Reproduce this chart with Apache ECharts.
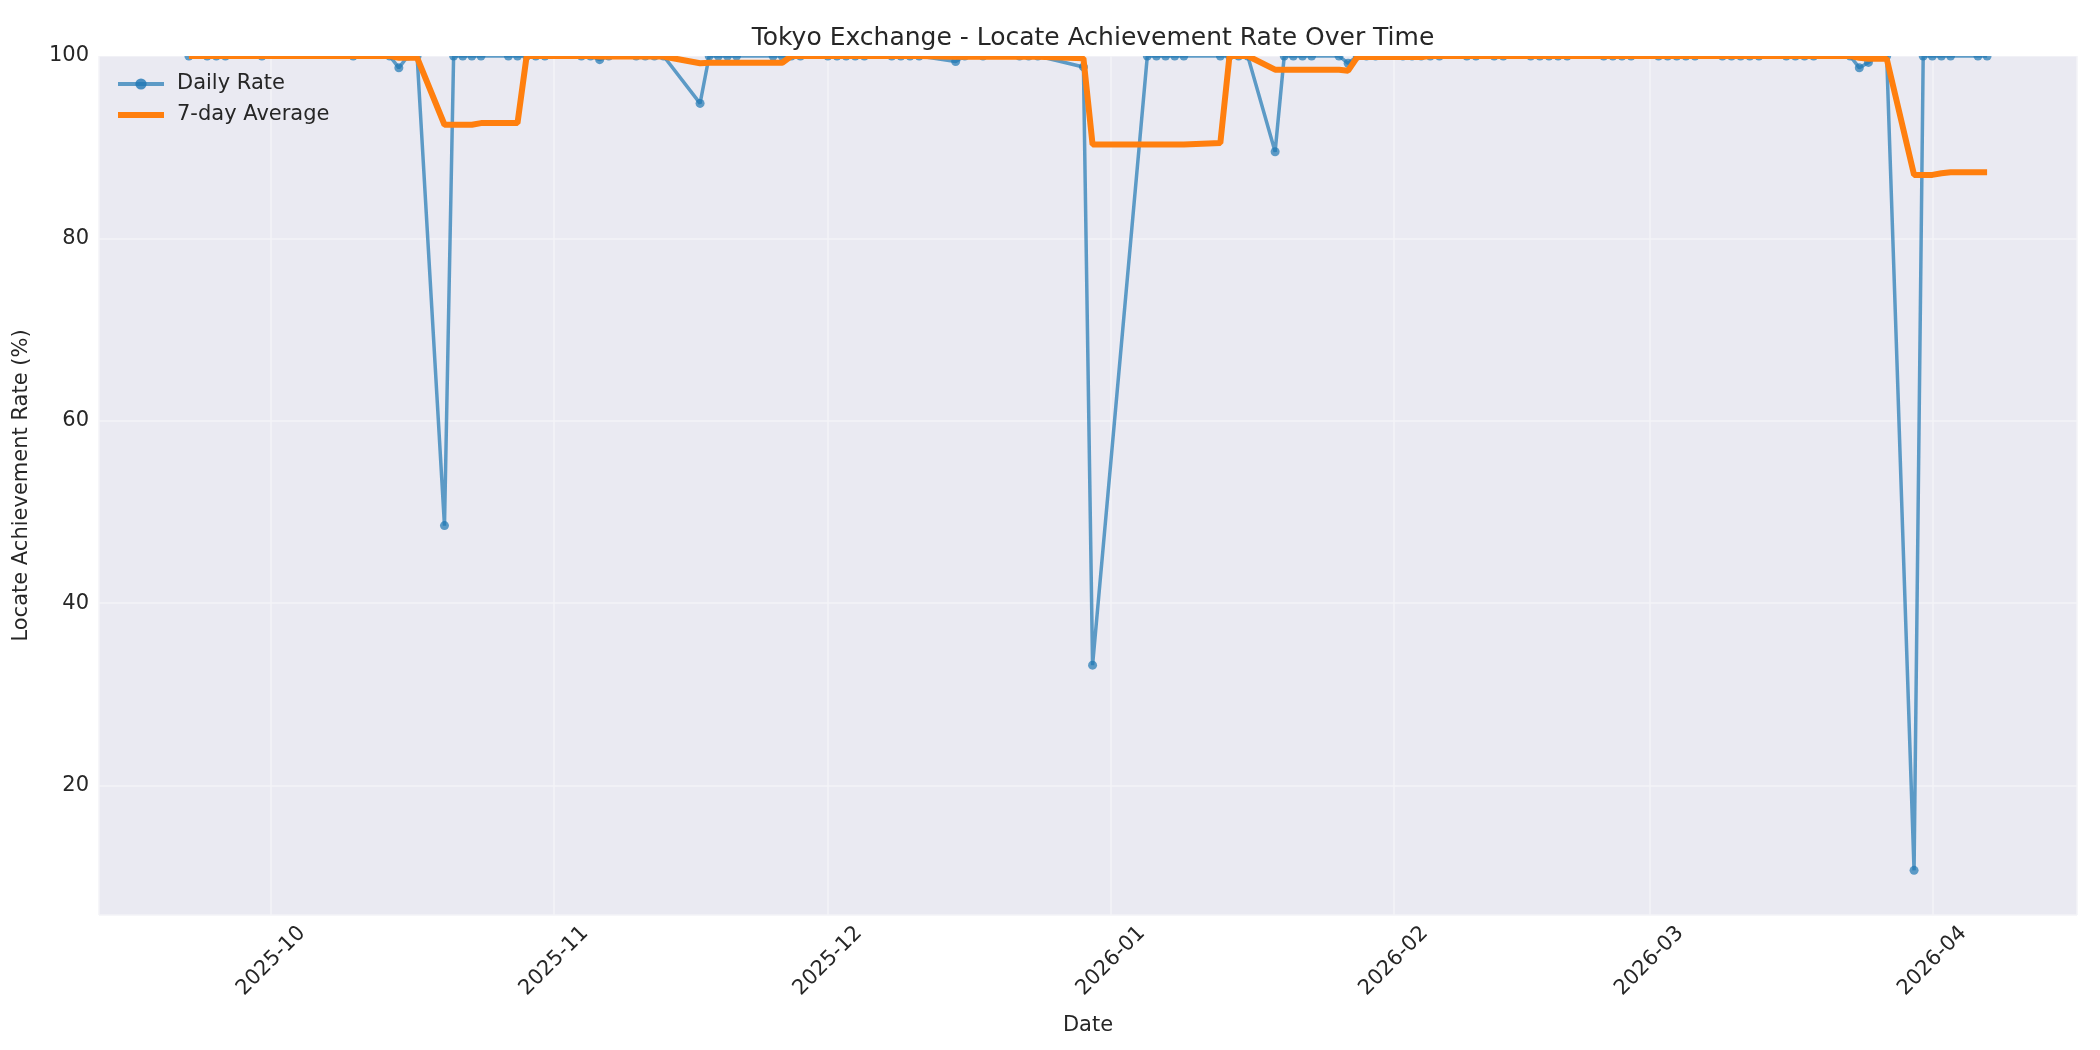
<!DOCTYPE html>
<html>
<head>
<meta charset="utf-8">
<script src="https://cdn.jsdelivr.net/npm/echarts@6/dist/echarts.min.js"></script>
<style>
  html, body { margin: 0; padding: 0; background: #ffffff; }
  #chart { width: 2100px; height: 1050px; }
</style>
</head>
<body>
<div id="chart"></div>
<script>
// ---- Data ----
const dates = [
  '2025-09-22','2025-09-24','2025-09-25','2025-09-26','2025-09-30',
  '2025-10-10','2025-10-14','2025-10-15','2025-10-16','2025-10-17',
  '2025-10-20','2025-10-21','2025-10-22','2025-10-23','2025-10-24',
  '2025-10-27','2025-10-28','2025-10-29','2025-10-30','2025-10-31',
  '2025-11-04','2025-11-05','2025-11-06','2025-11-07','2025-11-10',
  '2025-11-11','2025-11-12','2025-11-13','2025-11-17','2025-11-18',
  '2025-11-19','2025-11-20','2025-11-21','2025-11-25','2025-11-26',
  '2025-11-27','2025-11-28','2025-12-01','2025-12-02','2025-12-03',
  '2025-12-04','2025-12-05','2025-12-08','2025-12-09','2025-12-10',
  '2025-12-11','2025-12-15','2025-12-16','2025-12-18','2025-12-22',
  '2025-12-23','2025-12-24','2025-12-29','2025-12-30','2026-01-05',
  '2026-01-06','2026-01-07','2026-01-08','2026-01-09','2026-01-13',
  '2026-01-14','2026-01-15','2026-01-16','2026-01-19','2026-01-20',
  '2026-01-21','2026-01-22','2026-01-23','2026-01-26','2026-01-27',
  '2026-01-28','2026-01-29','2026-01-30','2026-02-02','2026-02-03',
  '2026-02-04','2026-02-05','2026-02-06','2026-02-09','2026-02-10',
  '2026-02-12','2026-02-13','2026-02-16','2026-02-17','2026-02-18',
  '2026-02-19','2026-02-20','2026-02-24','2026-02-25','2026-02-26',
  '2026-02-27','2026-03-02','2026-03-03','2026-03-04','2026-03-05',
  '2026-03-06','2026-03-09','2026-03-10','2026-03-11','2026-03-12',
  '2026-03-13','2026-03-16','2026-03-17','2026-03-18','2026-03-19',
  '2026-03-23','2026-03-24','2026-03-25','2026-03-26','2026-03-27',
  '2026-03-30','2026-03-31','2026-04-01','2026-04-02','2026-04-03',
  '2026-04-06','2026-04-07'
];

const dailyRate = [
  100, 100, 100, 100, 100,
  100, 100, 98.7, 100, 100,
  48.5, 100, 100, 100, 100,
  100, 100, 100, 100, 100,
  100, 100, 99.6, 100, 100,
  100, 100, 100, 94.8, 100,
  100, 100, 100, 100, 100,
  100, 100, 100, 100, 100,
  100, 100, 100, 100, 100,
  100, 99.4, 100, 100, 100,
  100, 100, 98.8, 33.2, 100,
  100, 100, 100, 100, 100,
  100, 100, 100, 89.5, 100,
  100, 100, 100, 100, 99.2,
  100, 100, 100, 100, 100,
  100, 100, 100, 100, 100,
  100, 100, 100, 100, 100,
  100, 100, 100, 100, 100,
  100, 100, 100, 100, 100,
  100, 100, 100, 100, 100,
  100, 100, 100, 100, 100,
  100, 98.7, 99.3, 100, 100,
  10.7, 100, 100, 100, 100,
  100, 100
];

const avgRate = [
  100, 100, 100, 100, 100,
  100, 100, 99.81, 99.81, 99.81,
  92.46, 92.46, 92.46, 92.46, 92.64,
  92.64, 92.64, 100, 100, 100,
  100, 100, 99.94, 99.94, 99.94,
  99.94, 99.94, 99.94, 99.2, 99.26,
  99.26, 99.26, 99.26, 99.26, 99.26,
  100, 100, 100, 100, 100,
  100, 100, 100, 100, 100,
  100, 99.91, 99.91, 99.91, 99.91,
  99.91, 99.91, 99.74, 90.29, 90.29,
  90.29, 90.29, 90.29, 90.29, 90.46,
  100, 100, 100, 98.5, 98.5,
  98.5, 98.5, 98.5, 98.5, 98.39,
  99.89, 99.89, 99.89, 99.89, 99.89,
  99.89, 100, 100, 100, 100,
  100, 100, 100, 100, 100,
  100, 100, 100, 100, 100,
  100, 100, 100, 100, 100,
  100, 100, 100, 100, 100,
  100, 100, 100, 100, 100,
  100, 99.81, 99.71, 99.71, 99.71,
  86.96, 86.96, 86.96, 87.14, 87.24,
  87.24, 87.24
];

const seriesNames = ['Daily Rate', '7-day Average'];
const titleText = 'Tokyo Exchange - Locate Achievement Rate Over Time';
const xAxisName = 'Date';
const yAxisName = 'Locate Achievement Rate (%)';

// ---- Chart ----
const chart = echarts.init(document.getElementById('chart'), null, { renderer: 'canvas' });
const FONT = 'DejaVu Sans';
const TEXT = '#262626';
const DAY = 86400000;
const GRID = { left: 99, right: 23, top: 56, bottom: 135 };

const dailyData = dates.map((d, i) => [d, dailyRate[i]]);
const avgData = dates.map((d, i) => [d, avgRate[i]]);

function pad2(n) { return (n < 10 ? '0' : '') + n; }

const option = {
  animation: false,
  backgroundColor: '#ffffff',
  textStyle: { fontFamily: FONT, color: TEXT },
  title: {
    text: titleText,
    left: 1088,
    textAlign: 'center',
    top: 21,
    z: 10,
    textStyle: { fontFamily: FONT, fontSize: 25, fontWeight: 'normal', color: TEXT }
  },
  // white band above the plot area, so marks sitting on the 100 line are
  // cut at the axes edge as in the reference
  graphic: [{
    type: 'rect',
    z: 5,
    silent: true,
    shape: { x: GRID.left, y: 0, width: 2100 - GRID.left, height: GRID.top },
    style: { fill: '#ffffff' }
  }],
  legend: {
    orient: 'vertical',
    left: 115,
    top: 72,
    padding: 0,
    itemWidth: 46,
    itemHeight: 14,
    itemGap: 7,
    data: [
      { name: seriesNames[0], lineStyle: { width: 4, color: '#1f77b4', opacity: 0.7 },
        itemStyle: { color: '#1f77b4', opacity: 0.8 } },
      { name: seriesNames[1], lineStyle: { width: 6, color: '#ff7f0e', opacity: 1 },
        itemStyle: { color: '#ff7f0e', opacity: 0 } }
    ],
    textStyle: { fontFamily: FONT, fontSize: 21, color: TEXT, lineHeight: 24, padding: [0, 0, 0, 8] }
  },
  grid: {
    left: GRID.left, right: GRID.right, top: GRID.top, bottom: GRID.bottom,
    show: true, backgroundColor: '#EAEAF2', borderWidth: 0,
    containLabel: false
  },
  xAxis: {
    type: 'time',
    min: new Date(2025, 8, 12, 3, 36).getTime(),
    max: new Date(2026, 3, 16, 20, 24).getTime(),
    minInterval: 27 * DAY,
    maxInterval: 32 * DAY,
    name: xAxisName,
    nameLocation: 'middle',
    nameGap: 100,
    nameTextStyle: { fontFamily: FONT, fontSize: 21, color: TEXT },
    axisLine: { show: false },
    axisTick: { show: false },
    splitLine: { show: true, lineStyle: { color: '#F3F3F7', width: 1.5 } },
    axisLabel: {
      rotate: 45,
      align: 'center',
      verticalAlign: 'middle',
      margin: 46,
      fontFamily: FONT,
      fontSize: 21,
      color: TEXT,
      hideOverlap: false,
      formatter: function (val) {
        const d = new Date(val);
        return d.getFullYear() + '-' + pad2(d.getMonth() + 1);
      }
    }
  },
  yAxis: {
    type: 'value',
    min: 5.8,
    max: 100,
    name: yAxisName,
    nameLocation: 'middle',
    nameGap: 67,
    nameRotate: 90,
    nameTextStyle: { fontFamily: FONT, fontSize: 21, color: TEXT },
    axisLine: { show: false },
    axisTick: { show: false },
    splitLine: { show: true, lineStyle: { color: '#F3F3F7', width: 1.5 } },
    axisLabel: {
      showMinLabel: false,
      margin: 10,
      fontFamily: FONT,
      fontSize: 21,
      color: TEXT
    }
  },
  series: [
    {
      name: seriesNames[0],
      type: 'line',
      data: dailyData,
      symbol: 'circle',
      symbolSize: 9,
      showSymbol: true,
      showAllSymbol: true,
      lineStyle: { color: '#1f77b4', width: 3.5, opacity: 0.7 },
      itemStyle: { color: '#1f77b4', opacity: 0.7, borderWidth: 0 },
      z: 2
    },
    {
      name: seriesNames[1],
      type: 'line',
      data: avgData,
      symbol: 'none',
      showSymbol: false,
      lineStyle: { color: '#ff7f0e', width: 6 },
      itemStyle: { color: '#ff7f0e' },
      z: 3
    }
  ]
};

chart.setOption(option);
</script>
</body>
</html>
